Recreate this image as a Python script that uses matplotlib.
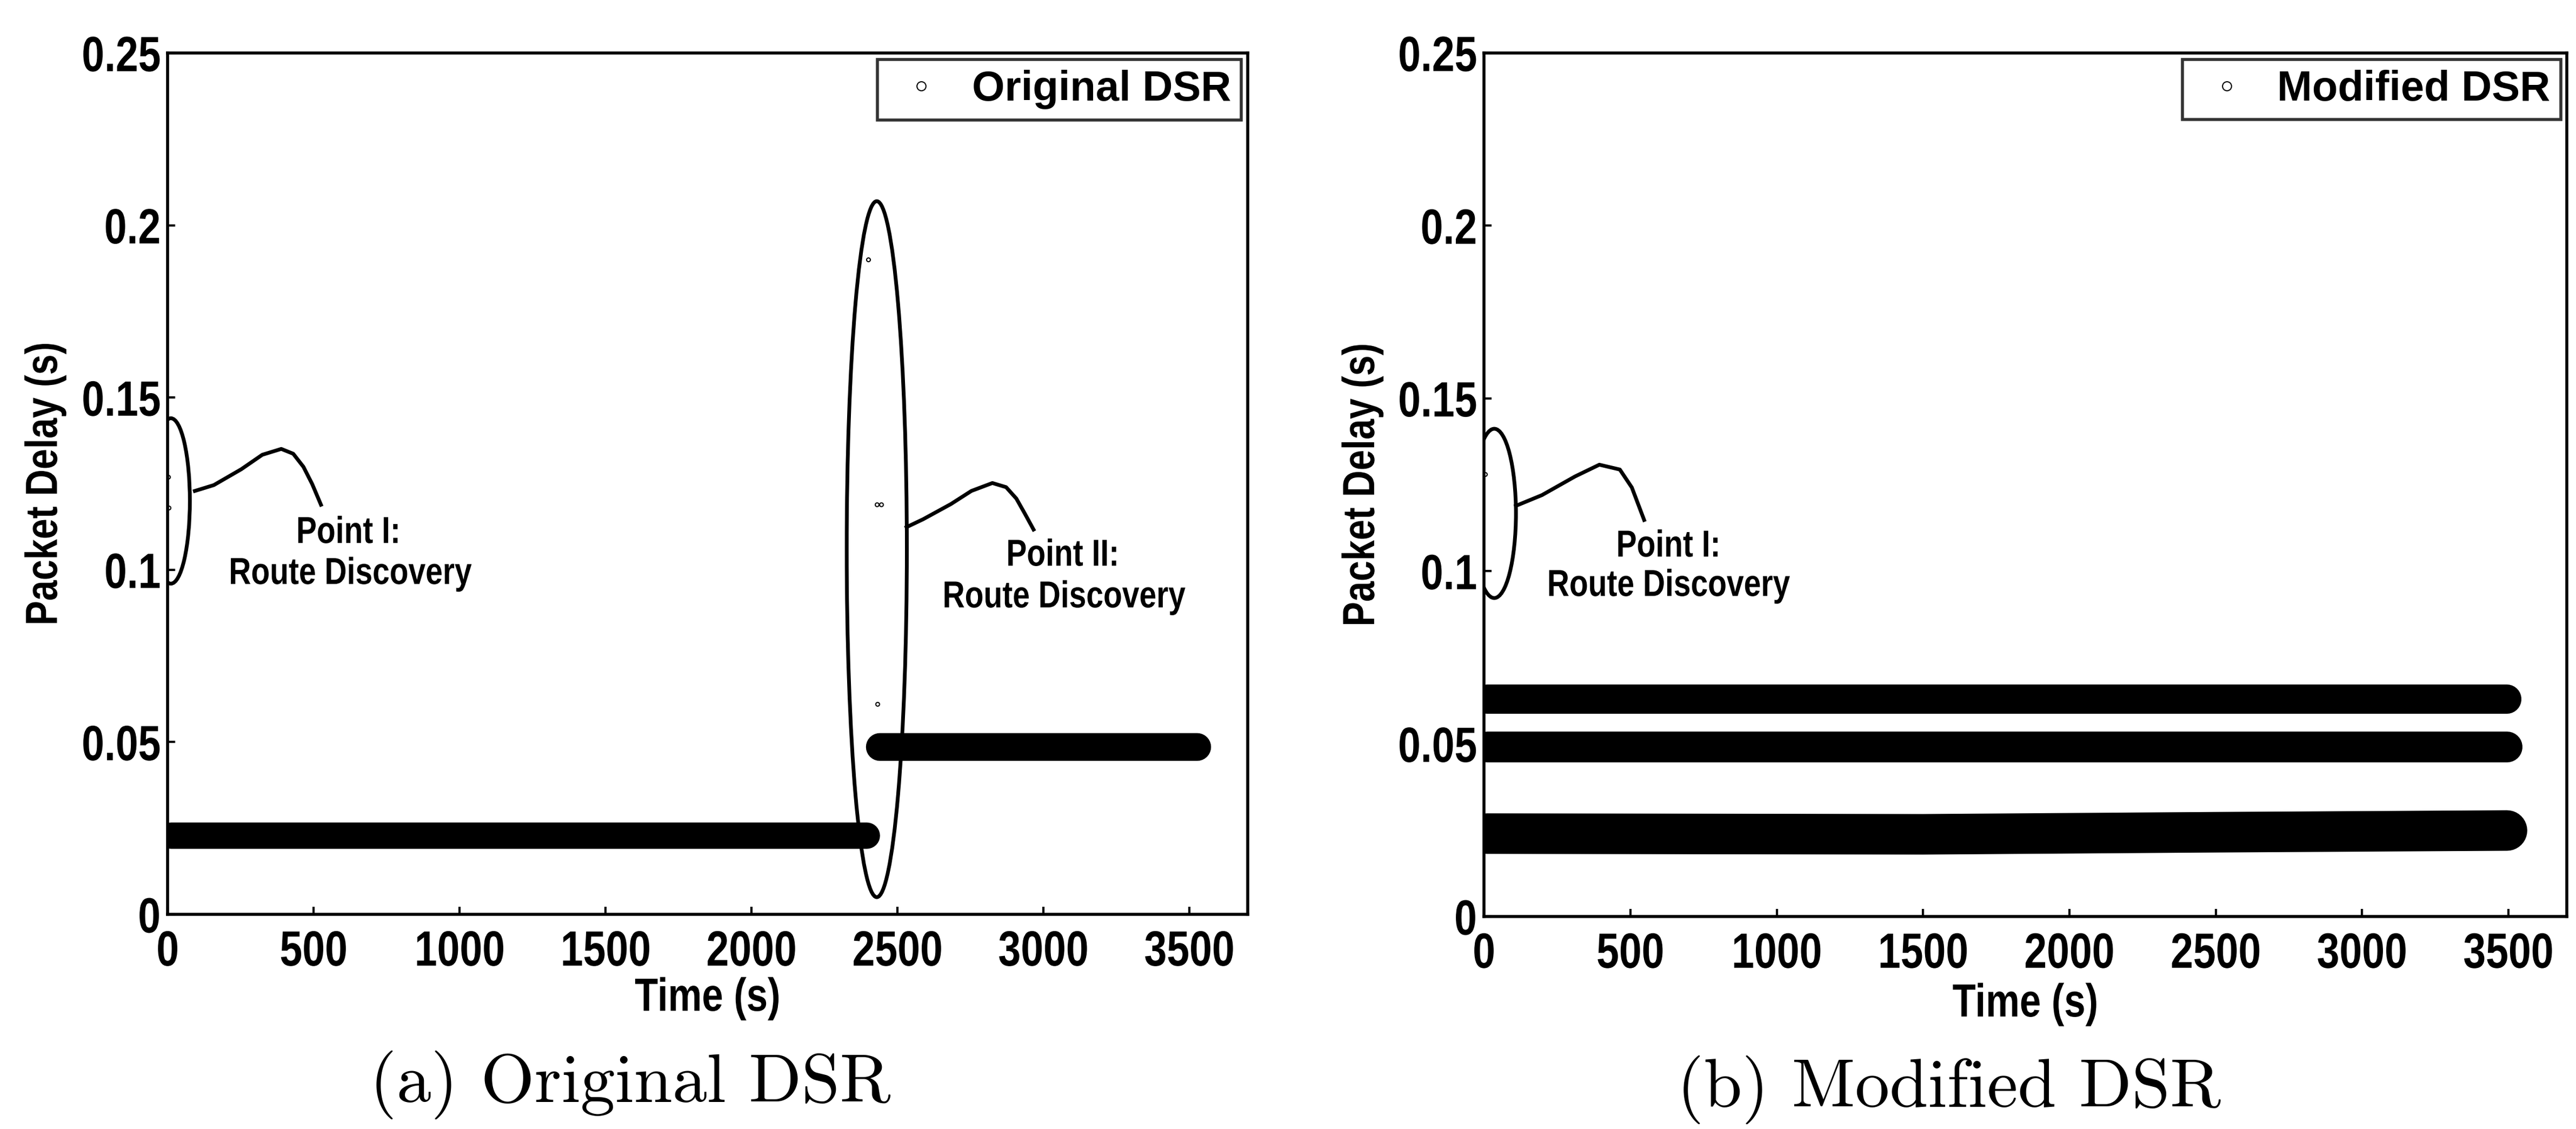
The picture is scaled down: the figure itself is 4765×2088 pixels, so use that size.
import matplotlib
matplotlib.use("Agg")
import matplotlib.pyplot as plt
from matplotlib.patches import Ellipse
from matplotlib.lines import Line2D
from matplotlib.patheffects import AbstractPathEffect
from matplotlib.transforms import Affine2D

plt.rcParams['font.family'] = ['Liberation Sans', 'DejaVu Sans']
plt.rcParams['font.weight'] = 'bold'

# ---- data ----
x_ticks = [0, 500, 1000, 1500, 2000, 2500, 3000, 3500]
y_ticks = [0, 0.05, 0.1, 0.15, 0.2, 0.25]
y_ticklabels = ['0', '0.05', '0.1', '0.15', '0.2', '0.25']

# (a) original DSR
orig_t_low = [10, 2395]
orig_d_low = [0.0229, 0.0229]
orig_t_high = [2438, 3525]
orig_d_high = [0.0487, 0.0487]
orig_t_disc = [2, 4, 2400, 2430, 2445, 2432]
orig_d_disc = [0.127, 0.118, 0.190, 0.119, 0.119, 0.061]

# (b) modified DSR
mod_t_top = [10, 3495]
mod_d_top = [0.0629, 0.0629]
mod_t_mid = [10, 3495]
mod_d_mid = [0.0492, 0.0492]
mod_t_low = [10, 1500, 2500, 3495]
mod_d_low = [0.0240, 0.0238, 0.0244, 0.0249]
mod_t_disc = [3]
mod_d_disc = [0.128]

# annotation ellipses: (centre t, centre delay, width t, height delay)
ell_a1 = (11, 0.120, 130, 0.048)
ell_a2 = (2429, 0.106, 206, 0.202)
ell_b1 = (35, 0.1167, 148, 0.049)

# leader curves
curve_a1_t = [93, 158, 252, 324, 389, 430, 465, 495, 525]
curve_a1_d = [0.1229, 0.1246, 0.1292, 0.1334, 0.1351, 0.1337, 0.1299, 0.1249, 0.1189]
curve_a2_t = [2531, 2588, 2683, 2753, 2825, 2872, 2907, 2937, 2966]
curve_a2_d = [0.1124, 0.1147, 0.1191, 0.1229, 0.1252, 0.1240, 0.1207, 0.1162, 0.1117]
curve_b1_t = [109, 198, 311, 394, 464, 505, 547]
curve_b1_d = [0.1189, 0.1220, 0.1274, 0.1308, 0.1294, 0.1242, 0.1148]


class Squeeze(AbstractPathEffect):
    """narrow the text horizontally (the scan's font is condensed)"""
    def __init__(self, sx=0.82, anchor='center'):
        super().__init__()
        self.sx = sx
        self.anchor = anchor

    def draw_path(self, renderer, gc, tpath, affine, rgbFace=None):
        ext = tpath.get_extents()
        if self.anchor == 'right':
            x0 = ext.x1
        elif self.anchor == 'left':
            x0 = ext.x0
        else:
            x0 = (ext.x0 + ext.x1) / 2
        sq = Affine2D().translate(-x0, 0).scale(self.sx, 1).translate(x0, 0)
        renderer.draw_path(gc, tpath, sq + affine, rgbFace)


SQ_C = [Squeeze(0.82, 'center')]
SQ_R = [Squeeze(0.82, 'right')]

fig = plt.figure(figsize=(47.65, 20.88), dpi=100)
ax1 = fig.add_axes([0.0651, 0.1901, 0.4193, 0.7629])
ax2 = fig.add_axes([0.5761, 0.1882, 0.4204, 0.7649])


def style(ax, ylab_x, xlab_y):
    ax.set_xlim(0, 3700)
    ax.set_ylim(0, 0.25)
    ax.set_xticks(x_ticks)
    ax.set_yticks(y_ticks)
    ax.set_yticklabels(y_ticklabels)
    ax.tick_params(direction='in', length=10, width=3, labelsize=66)
    ax.tick_params(axis='x', pad=20)
    ax.tick_params(axis='y', pad=9)
    for s in ax.spines.values():
        s.set_linewidth(4)
    ax.set_xlabel('Time (s)', fontsize=62, fontweight='bold', path_effects=SQ_C)
    ax.set_ylabel('Packet Delay (s)', fontsize=60, fontweight='bold', path_effects=SQ_C)
    ax.xaxis.set_label_coords(0.5, xlab_y)
    ax.yaxis.set_label_coords(ylab_x, 0.5)
    for lab in ax.get_xticklabels():
        lab.set_path_effects(SQ_C)
    for lab in ax.get_yticklabels():
        lab.set_path_effects(SQ_R)


def band(ax, t, d, lw):
    ax.plot(t, d, color='black', lw=lw, solid_capstyle='round',
            solid_joinstyle='round')


def ellipse(ax, e):
    ax.add_patch(Ellipse((e[0], e[1]), e[2], e[3], fill=False,
                         edgecolor='black', lw=5))


def note(ax, x, y, s):
    ax.text(x, y, s, ha='center', va='baseline', fontsize=50,
            fontweight='bold', path_effects=SQ_C)


def legend(ax, label):
    h = Line2D([], [], marker='o', ls='none', markersize=12,
               markerfacecolor='none', markeredgecolor='black', markeredgewidth=1.5)
    leg = ax.legend([h], [label], loc='upper right', fontsize=56,
                    frameon=True, fancybox=False, borderpad=0.25,
                    handlelength=1.6, handletextpad=0.4, borderaxespad=0.15)
    leg.get_frame().set_edgecolor('black')
    leg.get_frame().set_linewidth(4)


# (a)
band(ax1, orig_t_low, orig_d_low, 35)
band(ax1, orig_t_high, orig_d_high, 37)
ax1.plot(orig_t_disc, orig_d_disc, 'o', ms=5, mfc='none', mec='black', mew=1.5)
ellipse(ax1, ell_a1)
ellipse(ax1, ell_a2)
ax1.plot(curve_a1_t, curve_a1_d, color='black', lw=5)
ax1.plot(curve_a2_t, curve_a2_d, color='black', lw=5)
note(ax1, 619, 0.1078, 'Point I:')
note(ax1, 625, 0.0959, 'Route Discovery')
note(ax1, 3066, 0.1012, 'Point II:')
note(ax1, 3070, 0.0891, 'Route Discovery')
style(ax1, -0.094, -0.073)
legend(ax1, 'Original DSR')

# (b)
band(ax2, mod_t_top, mod_d_top, 39)
band(ax2, mod_t_mid, mod_d_mid, 41)
band(ax2, mod_t_low, mod_d_low, 54)
ax2.plot(mod_t_disc, mod_d_disc, 'o', ms=5, mfc='none', mec='black', mew=1.5)
ellipse(ax2, ell_b1)
ax2.plot(curve_b1_t, curve_b1_d, color='black', lw=5)
note(ax2, 630, 0.1042, 'Point I:')
note(ax2, 630, 0.0928, 'Route Discovery')
style(ax2, -0.093, -0.077)
legend(ax2, 'Modified DSR')

# captions
fig.text(0.2447, 0.039, '(a) Original DSR', ha='center', va='center',
         fontsize=92, family='cmr10', fontweight='normal')
fig.text(0.7566, 0.035, '(b) Modified DSR', ha='center', va='center',
         fontsize=92, family='cmr10', fontweight='normal')

fig.savefig('out.png', dpi=100)
